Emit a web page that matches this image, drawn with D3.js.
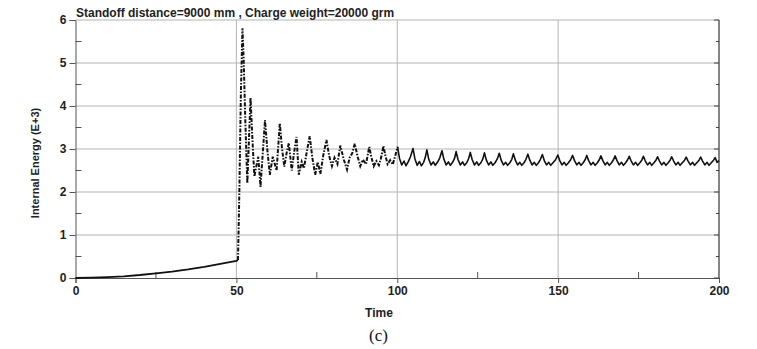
<!DOCTYPE html>
<html>
<head>
<meta charset="utf-8">
<script src="https://cdn.jsdelivr.net/npm/d3@7"></script>
<style>
  html, body { margin: 0; padding: 0; background: #fff; }
  svg { display: block; }
  text { font-family: "Liberation Sans", Arial, sans-serif; }
</style>
</head>
<body>
<svg id="chart" width="757" height="349"></svg>
<script>
// Internal energy history (E+3) versus time
const chartTitle = "Standoff distance=9000 mm , Charge weight=20000 grm";
const xTicks = [0, 50, 100, 150, 200];
const yTicks = [0, 1, 2, 3, 4, 5, 6];
const xMinorTicks = [25, 75, 125, 175];
const yMinorTicks = [0.5, 1.5, 2.5, 3.5, 4.5, 5.5];

// Slow build-up before arrival of the blast wave
const rampTime   = [0, 5, 10, 15, 20, 25, 30, 35, 40, 45, 50, 50.5];
const rampEnergy = [0, 0.008, 0.02, 0.04, 0.07, 0.11, 0.15, 0.2, 0.26, 0.33, 0.4, 0.42];

// Transient response right after the blast wave arrives
const transientTime = [
  50.5, 50.9, 51.4, 51.9, 52.3, 52.8, 53.4, 53.9, 54.4, 55.0,
  55.6, 56.2, 56.8, 57.5, 58.2, 58.9, 59.6, 60.4, 61.3, 62.5,
  63.5, 64.2, 64.9, 65.6, 66.3, 67.2, 67.9, 68.7, 69.4, 70.3,
  71.0, 71.8, 72.8, 73.6, 74.5, 75.3, 76.1, 77.0, 78.0, 78.8,
  79.7, 80.5, 81.4, 82.3, 83.4, 84.4, 85.2, 86.0, 86.8, 87.6,
  88.5, 89.3, 90.3, 91.3, 92.0, 92.7, 93.5, 94.3, 95.0, 95.7,
  96.3, 97.0, 97.8, 98.6, 99.4, 100.1
];
const transientEnergy = [
  0.42, 1.9, 4.3, 5.81, 5.0, 3.6, 2.2, 3.2, 4.19, 3.2,
  2.36, 2.6, 2.82, 2.12, 2.9, 3.67, 3.0, 2.4, 2.82, 2.5,
  3.6, 3.0, 2.59, 2.9, 3.14, 2.5, 2.9, 3.28, 2.4, 2.7,
  2.55, 2.9, 3.3, 2.8, 2.4, 2.7, 2.42, 2.85, 3.21, 2.85,
  2.6, 2.8, 2.65, 3.08, 2.75, 2.52, 2.8, 2.9, 3.12, 2.85,
  2.6, 2.75, 2.65, 3.05, 2.8, 2.6, 2.72, 2.62, 2.8, 3.07,
  2.85, 2.65, 2.74, 2.64, 2.85, 3.05
];

// Settled oscillation around the steady level
const steadyTime = [
  100.1, 100.7, 101.4, 102.1, 102.7, 103.4, 104.1,
  104.9, 105.5, 106.2, 106.9, 107.5, 108.2, 108.7,
  109.2, 109.8, 110.5, 111.2, 111.8, 112.5, 113.2,
  113.9, 114.5, 115.2, 115.9, 116.5, 117.2, 117.8,
  118.3, 118.9, 119.6, 120.3, 120.9, 121.6, 122.2,
  122.7, 123.3, 124.0, 124.7, 125.3, 126.0, 126.6,
  127.1, 127.7, 128.4, 129.1, 129.7, 130.4, 131.1,
  131.7, 132.3, 133.0, 133.7, 134.3, 135.0, 135.6,
  136.1, 136.7, 137.4, 138.1, 138.7, 139.4, 140.0,
  140.6, 141.2, 141.9, 142.6, 143.2, 143.9, 144.5,
  145.1, 145.7, 146.4, 147.1, 147.7, 148.4, 149.2,
  149.9, 150.5, 151.2, 151.9, 152.5, 153.2, 153.9,
  154.5, 155.1, 155.8, 156.5, 157.1, 157.8, 158.4,
  158.9, 159.5, 160.2, 160.9, 161.5, 162.2, 162.8,
  163.3, 163.9, 164.6, 165.3, 165.9, 166.6, 167.2,
  167.7, 168.3, 169.0, 169.7, 170.3, 171.0, 171.6,
  172.1, 172.7, 173.4, 174.1, 174.7, 175.4, 176.0,
  176.5, 177.1, 177.8, 178.5, 179.1, 179.8, 180.4,
  180.9, 181.5, 182.2, 182.9, 183.5, 184.2, 184.8,
  185.3, 185.9, 186.6, 187.3, 187.9, 188.6, 189.3,
  189.8, 190.4, 191.1, 191.8, 192.4, 193.1, 193.8,
  194.3, 194.9, 195.6, 196.3, 196.9, 197.6, 198.3,
  198.8, 199.4, 200.0
];
const steadyEnergy = [
  3.05, 2.78, 2.63, 2.72, 2.61, 2.70, 2.82,
  3.01, 2.77, 2.62, 2.71, 2.61, 2.69, 2.80,
  2.98, 2.76, 2.63, 2.70, 2.62, 2.69, 2.79,
  2.96, 2.76, 2.63, 2.70, 2.62, 2.69, 2.78,
  2.94, 2.75, 2.63, 2.70, 2.62, 2.68, 2.78,
  2.92, 2.75, 2.63, 2.70, 2.62, 2.68, 2.77,
  2.91, 2.74, 2.63, 2.70, 2.62, 2.68, 2.77,
  2.90, 2.74, 2.63, 2.69, 2.62, 2.68, 2.76,
  2.89, 2.74, 2.63, 2.69, 2.62, 2.68, 2.76,
  2.88, 2.74, 2.63, 2.69, 2.62, 2.68, 2.76,
  2.87, 2.73, 2.63, 2.69, 2.62, 2.68, 2.75,
  2.86, 2.73, 2.63, 2.69, 2.62, 2.68, 2.75,
  2.85, 2.73, 2.63, 2.69, 2.62, 2.68, 2.75,
  2.85, 2.73, 2.63, 2.69, 2.62, 2.68, 2.75,
  2.84, 2.73, 2.63, 2.69, 2.62, 2.68, 2.75,
  2.84, 2.73, 2.63, 2.69, 2.62, 2.68, 2.75,
  2.83, 2.72, 2.63, 2.69, 2.62, 2.68, 2.74,
  2.83, 2.72, 2.63, 2.69, 2.62, 2.68, 2.74,
  2.82, 2.72, 2.63, 2.69, 2.62, 2.68, 2.74,
  2.82, 2.72, 2.63, 2.69, 2.62, 2.68, 2.74,
  2.81, 2.72, 2.63, 2.69, 2.62, 2.68, 2.74,
  2.81, 2.72, 2.63, 2.69, 2.62, 2.68, 2.74,
  2.80, 2.69, 2.73
];

const svg = d3.select("#chart");
const x = d3.scaleLinear().domain([0, 200]).range([75.5, 719]);
const y = d3.scaleLinear().domain([0, 6]).range([278, 20]);

const gridColor = "#b4b4b4";
const axisColor = "#555";
const sans = "'Liberation Sans', Arial, sans-serif";

// Grid lines at major ticks
svg.append("g").selectAll("line").data(yTicks.filter(d => d > 0)).join("line")
  .attr("x1", x(0)).attr("x2", x(200))
  .attr("y1", d => y(d)).attr("y2", d => y(d))
  .attr("stroke", gridColor).attr("stroke-width", 1);
svg.append("g").selectAll("line").data(xTicks.filter(d => d > 0 && d < 200)).join("line")
  .attr("x1", d => x(d)).attr("x2", d => x(d))
  .attr("y1", y(0)).attr("y2", y(6))
  .attr("stroke", gridColor).attr("stroke-width", 1);

// Left axis with outward major ticks and inward minor ticks
const yAxis = d3.axisLeft(y).tickValues(yTicks).tickSize(6).tickPadding(3).tickFormat(d3.format("d"));
const gy = svg.append("g").attr("transform", `translate(${x(0)},0)`).call(yAxis);
gy.select(".domain").attr("stroke", axisColor);
gy.selectAll(".tick line").attr("stroke", axisColor);
gy.selectAll(".tick text")
  .style("font-family", sans)
  .attr("font-size", 12).attr("font-weight", "bold").attr("fill", "#222");
svg.append("g").selectAll("line").data(yMinorTicks).join("line")
  .attr("x1", x(0)).attr("x2", x(0) + 6)
  .attr("y1", d => y(d)).attr("y2", d => y(d))
  .attr("stroke", axisColor);

// Bottom axis
const xAxis = d3.axisBottom(x).tickValues(xTicks).tickSize(5).tickPadding(3).tickFormat(d3.format("d"));
const gx = svg.append("g").attr("transform", `translate(0,${y(0)})`).call(xAxis);
gx.select(".domain").attr("stroke", axisColor);
gx.selectAll(".tick line").attr("stroke", axisColor);
gx.selectAll(".tick text")
  .style("font-family", sans)
  .attr("font-size", 12).attr("font-weight", "bold").attr("fill", "#222");
svg.append("g").selectAll("line").data(xMinorTicks).join("line")
  .attr("x1", d => x(d)).attr("x2", d => x(d))
  .attr("y1", y(0)).attr("y2", y(0) - 6)
  .attr("stroke", axisColor);

// Right border with inward ticks
svg.append("line")
  .attr("x1", x(200)).attr("x2", x(200)).attr("y1", y(0)).attr("y2", y(6))
  .attr("stroke", "#333").attr("stroke-width", 1.2);
svg.append("g").selectAll("line").data(yTicks.concat(yMinorTicks)).join("line")
  .attr("x1", x(200)).attr("x2", d => x(200) - (Number.isInteger(d) ? 5 : 3))
  .attr("y1", d => y(d)).attr("y2", d => y(d))
  .attr("stroke", "#444");

// Curve
const line = d3.line().x(d => x(d[0])).y(d => y(d[1]));
const zip = (t, v) => t.map((ti, i) => [ti, v[i]]);

svg.append("path").datum(zip(rampTime, rampEnergy))
  .attr("d", line).attr("fill", "none")
  .attr("stroke", "#111").attr("stroke-width", 1.8);
svg.append("path").datum(zip(transientTime, transientEnergy))
  .attr("d", line).attr("fill", "none")
  .attr("stroke", "#111").attr("stroke-width", 2)
  .attr("stroke-dasharray", "4,1.5,1.5,1.5");
svg.append("path").datum(zip(steadyTime, steadyEnergy))
  .attr("d", line).attr("fill", "none")
  .attr("stroke", "#111").attr("stroke-width", 1.6)
  .attr("stroke-linejoin", "round");

// Titles and labels
svg.append("text").attr("x", 76).attr("y", 16.5)
  .style("font-family", sans)
  .attr("font-size", 12).attr("font-weight", "bold").attr("fill", "#222")
  .text(chartTitle);
svg.append("text")
  .attr("transform", "translate(39,163) rotate(-90)")
  .attr("text-anchor", "middle")
  .style("font-family", sans)
  .attr("font-size", 11).attr("font-weight", "bold").attr("fill", "#222")
  .text("Internal Energy (E+3)");
svg.append("text").attr("x", 379).attr("y", 316.5)
  .attr("text-anchor", "middle")
  .style("font-family", sans)
  .attr("font-size", 12).attr("font-weight", "bold").attr("fill", "#222")
  .text("Time");
svg.append("text").attr("x", 378.5).attr("y", 341)
  .attr("text-anchor", "middle")
  .style("font-family", "'Liberation Serif', 'Times New Roman', serif")
  .attr("font-size", 17).attr("fill", "#111")
  .text("(c)");
</script>
</body>
</html>
